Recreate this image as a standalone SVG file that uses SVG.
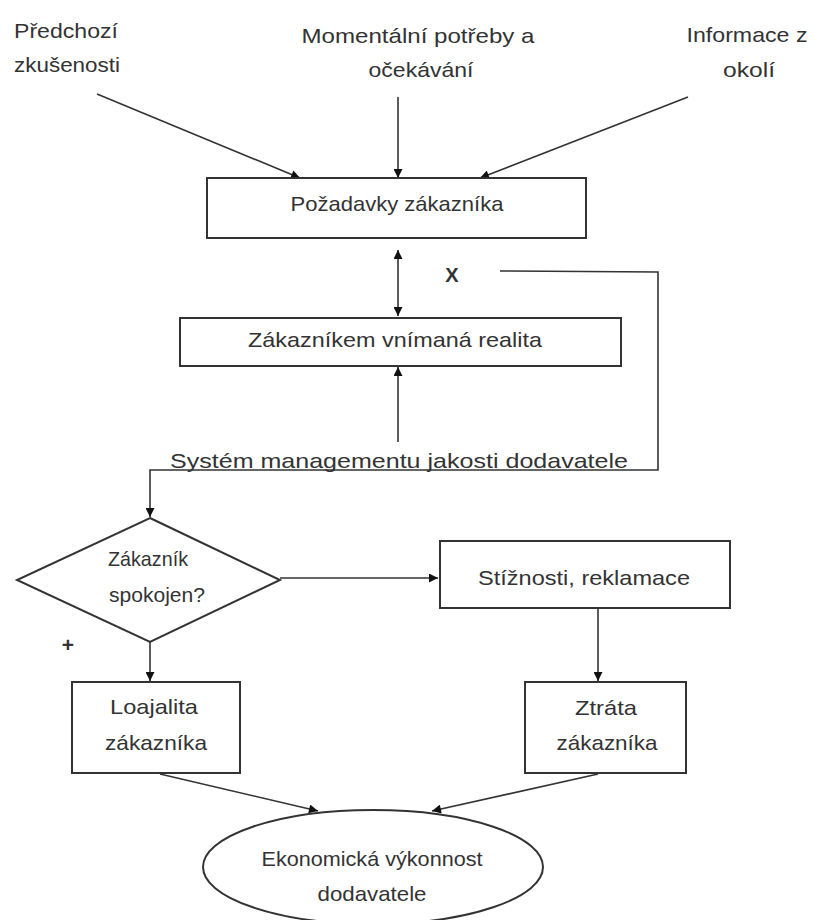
<svg xmlns="http://www.w3.org/2000/svg" width="819" height="920" viewBox="0 0 819 920">
<defs>
<marker id="ah" viewBox="0 0 10 10" refX="10" refY="5" markerWidth="10" markerHeight="9" markerUnits="userSpaceOnUse" orient="auto-start-reverse">
<path d="M0,0 L10,5 L0,10 z" fill="#111"/>
</marker>
<style>
.n{fill:#fff;stroke:#333;stroke-width:2}
.t{font-family:"Liberation Sans",Arial,sans-serif;font-size:21px;fill:#333;text-anchor:middle}
.tl{font-family:"Liberation Sans",Arial,sans-serif;font-size:21px;fill:#333}
.c{fill:none;stroke:#333;stroke-width:1.6}
.a{marker-end:url(#ah)}
</style>
</defs>
<rect width="819" height="920" fill="#fff"/>
<g id="labels">
<text class="tl" x="14" y="38" textLength="104" lengthAdjust="spacingAndGlyphs">Předchozí</text>
<text class="tl" x="14" y="72" textLength="106" lengthAdjust="spacingAndGlyphs">zkušenosti</text>
<text class="t" x="418" y="43" textLength="233" lengthAdjust="spacingAndGlyphs">Momentální potřeby a</text>
<text class="t" x="421" y="77" textLength="105" lengthAdjust="spacingAndGlyphs">očekávání</text>
<text class="t" x="747" y="42" textLength="121" lengthAdjust="spacingAndGlyphs">Informace z</text>
<text class="t" x="749" y="77" textLength="52" lengthAdjust="spacingAndGlyphs">okolí</text>
<text class="t" x="452" y="282" style="font-weight:bold;font-size:20px">X</text>
<text class="t" x="68" y="652" style="font-weight:bold">+</text>
</g>
<g id="connectors">
<line class="c a" x1="97" y1="94" x2="300" y2="178"/>
<line class="c a" x1="398" y1="97" x2="398" y2="178"/>
<line class="c a" x1="688" y1="97" x2="480" y2="178"/>
<line class="c a" x1="398" y1="250" x2="398" y2="316" style="marker-start:url(#ah)"/>
<line class="c a" x1="398" y1="442" x2="398" y2="367"/>
<polyline class="c a" points="500,271 658,272 658,470 150,470 150,517"/>
<line class="c a" x1="280" y1="578" x2="438" y2="578"/>
<line class="c a" x1="150" y1="642" x2="150" y2="681"/>
<line class="c a" x1="598" y1="608" x2="598" y2="681"/>
<line class="c a" x1="160" y1="774" x2="318" y2="811"/>
<line class="c a" x1="598" y1="774" x2="432" y2="811"/>
</g>
<g id="pozadavky">
<rect class="n" x="207" y="178" width="379" height="60"/>
<text class="t" x="397" y="211" textLength="213" lengthAdjust="spacingAndGlyphs">Požadavky zákazníka</text>
</g>
<g id="realita">
<rect class="n" x="180" y="318" width="441" height="48"/>
<text class="t" x="395" y="347" textLength="294" lengthAdjust="spacingAndGlyphs">Zákazníkem vnímaná realita</text>
</g>
<g id="system">
<text class="t" x="399" y="468" textLength="458" lengthAdjust="spacingAndGlyphs">Systém managementu jakosti dodavatele</text>
</g>
<g id="spokojen">
<polygon class="n" points="150,518 280,580 150,642 17,580"/>
<text class="t" x="148" y="566" textLength="80" lengthAdjust="spacingAndGlyphs">Zákazník</text>
<text class="t" x="157" y="602" textLength="96" lengthAdjust="spacingAndGlyphs">spokojen?</text>
</g>
<g id="stiznosti">
<rect class="n" x="440" y="541" width="290" height="67"/>
<text class="t" x="584" y="585" textLength="212" lengthAdjust="spacingAndGlyphs">Stížnosti, reklamace</text>
</g>
<g id="loajalita">
<rect class="n" x="72" y="682" width="168" height="91"/>
<text class="t" x="154" y="714" textLength="88" lengthAdjust="spacingAndGlyphs">Loajalita</text>
<text class="t" x="156" y="750" textLength="102" lengthAdjust="spacingAndGlyphs">zákazníka</text>
</g>
<g id="ztrata">
<rect class="n" x="525" y="682" width="161" height="91"/>
<text class="t" x="606" y="715" textLength="62" lengthAdjust="spacingAndGlyphs">Ztráta</text>
<text class="t" x="607" y="750" textLength="101" lengthAdjust="spacingAndGlyphs">zákazníka</text>
</g>
<g id="ekonomicka">
<ellipse class="n" cx="373" cy="867" rx="170" ry="57"/>
<text class="t" x="372" y="866" textLength="221" lengthAdjust="spacingAndGlyphs">Ekonomická výkonnost</text>
<text class="t" x="372" y="901" textLength="109" lengthAdjust="spacingAndGlyphs">dodavatele</text>
</g>
</svg>
